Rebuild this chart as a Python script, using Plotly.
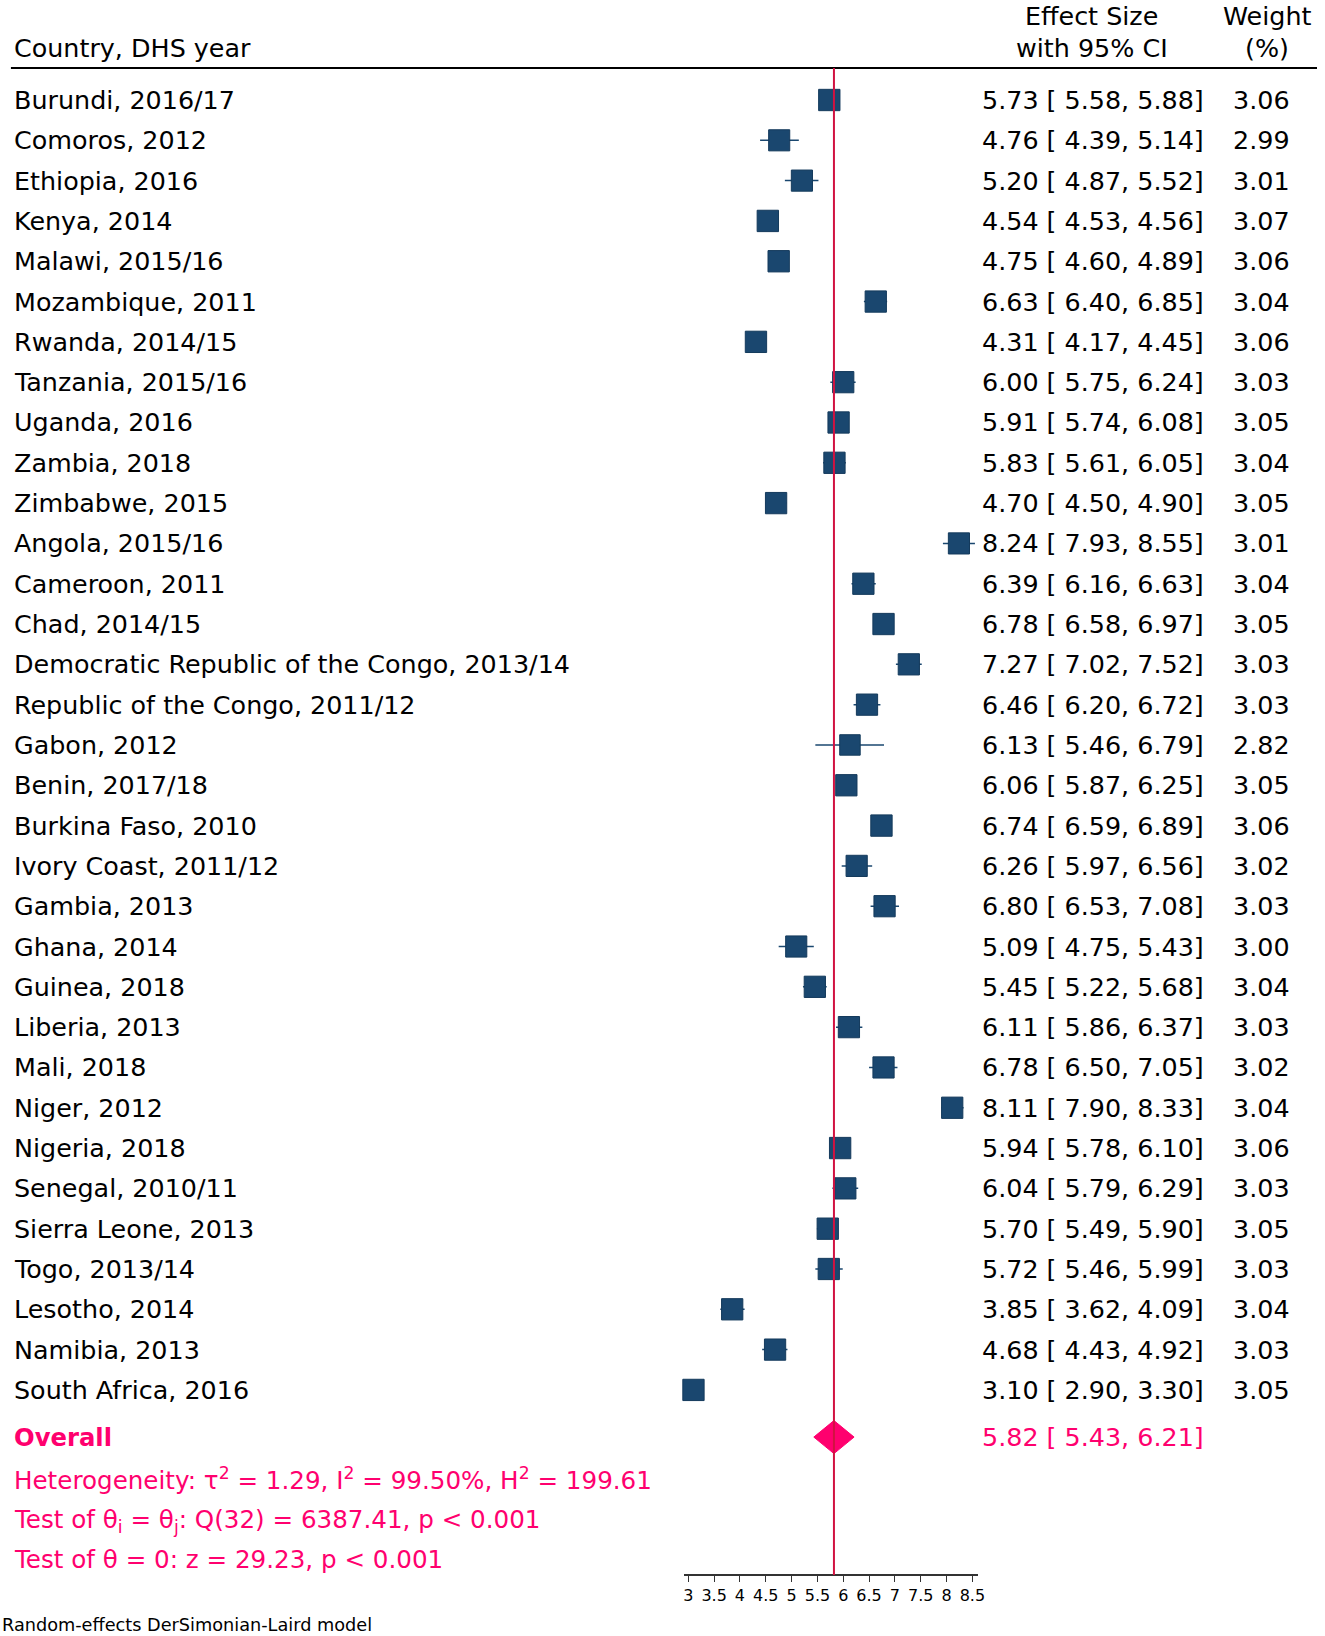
import plotly.graph_objects as go

# forest plot data
countries = [
    "Burundi, 2016/17", "Comoros, 2012", "Ethiopia, 2016", "Kenya, 2014",
    "Malawi, 2015/16", "Mozambique, 2011", "Rwanda, 2014/15", "Tanzania, 2015/16",
    "Uganda, 2016", "Zambia, 2018", "Zimbabwe, 2015", "Angola, 2015/16",
    "Cameroon, 2011", "Chad, 2014/15", "Democratic Republic of the Congo, 2013/14",
    "Republic of the Congo, 2011/12", "Gabon, 2012", "Benin, 2017/18",
    "Burkina Faso, 2010", "Ivory Coast, 2011/12", "Gambia, 2013", "Ghana, 2014",
    "Guinea, 2018", "Liberia, 2013", "Mali, 2018", "Niger, 2012", "Nigeria, 2018",
    "Senegal, 2010/11", "Sierra Leone, 2013", "Togo, 2013/14", "Lesotho, 2014",
    "Namibia, 2013", "South Africa, 2016",
]
es = [5.73, 4.76, 5.20, 4.54, 4.75, 6.63, 4.31, 6.00, 5.91, 5.83, 4.70, 8.24,
      6.39, 6.78, 7.27, 6.46, 6.13, 6.06, 6.74, 6.26, 6.80, 5.09, 5.45, 6.11,
      6.78, 8.11, 5.94, 6.04, 5.70, 5.72, 3.85, 4.68, 3.10]
lo = [5.58, 4.39, 4.87, 4.53, 4.60, 6.40, 4.17, 5.75, 5.74, 5.61, 4.50, 7.93,
      6.16, 6.58, 7.02, 6.20, 5.46, 5.87, 6.59, 5.97, 6.53, 4.75, 5.22, 5.86,
      6.50, 7.90, 5.78, 5.79, 5.49, 5.46, 3.62, 4.43, 2.90]
hi = [5.88, 5.14, 5.52, 4.56, 4.89, 6.85, 4.45, 6.24, 6.08, 6.05, 4.90, 8.55,
      6.63, 6.97, 7.52, 6.72, 6.79, 6.25, 6.89, 6.56, 7.08, 5.43, 5.68, 6.37,
      7.05, 8.33, 6.10, 6.29, 5.90, 5.99, 4.09, 4.92, 3.30]
weights = [3.06, 2.99, 3.01, 3.07, 3.06, 3.04, 3.06, 3.03, 3.05, 3.04, 3.05, 3.01,
           3.04, 3.05, 3.03, 3.03, 2.82, 3.05, 3.06, 3.02, 3.03, 3.00, 3.04, 3.03,
           3.02, 3.04, 3.06, 3.03, 3.05, 3.03, 3.04, 3.03, 3.05]

overall_es, overall_lo, overall_hi = 5.82, 5.43, 6.21
tick_vals = [3, 3.5, 4, 4.5, 5, 5.5, 6, 6.5, 7, 7.5, 8, 8.5]

W, H = 1325, 1636
NAVY = "#1A476F"
PINK = "#FF006E"
RED = "#D11241"
FONT = "DejaVu Sans"
FS = 25.4

ROW0, ROWH = 100, 40.31   # pixel y of first row, row spacing
rows = list(range(len(countries)))
r_overall = 33.17


def fx(px):  # pixel x -> paper x
    return px / W


def fy(px):  # pixel y -> paper y
    return 1 - px / H


def row_of(px):  # pixel y -> row coordinate
    return (px - ROW0) / ROWH


fig = go.Figure()

# confidence interval whiskers
ci_x, ci_y = [], []
for r, a, b in zip(rows, lo, hi):
    ci_x += [a, b, None]
    ci_y += [r, r, None]
fig.add_trace(go.Scatter(x=ci_x, y=ci_y, mode="lines",
                         line=dict(color=NAVY, width=1.5), hoverinfo="skip"))

# study boxes, size by weight
fig.add_trace(go.Scatter(
    x=es, y=rows, mode="markers",
    marker=dict(symbol="square", color=NAVY, opacity=1,
                size=[12.2 * w ** 0.5 for w in weights],
                line=dict(color="#143a5c", width=1)),
    cliponaxis=False, hoverinfo="skip"))

# overall diamond
dh = 0.41
fig.add_trace(go.Scatter(
    x=[overall_lo, overall_es, overall_hi, overall_es, overall_lo],
    y=[r_overall, r_overall - dh, r_overall, r_overall + dh, r_overall],
    mode="lines", fill="toself", fillcolor=PINK,
    line=dict(color=PINK, width=1), hoverinfo="skip"))

ann = []


def txt(text, x, y, xanchor="left", yref="paper", size=FS, color="black"):
    # small nudges for the annotation box padding
    shift = {"left": -3, "right": 9, "center": 5}[xanchor]
    ann.append(dict(text=text, x=fx(x + shift), y=y, xref="paper", yref=yref,
                    xanchor=xanchor, yanchor="middle", showarrow=False,
                    font=dict(family=FONT, size=size, color=color)))


# header
txt("Country, DHS year", 14, fy(48))
txt("Effect Size", 1093, fy(16), "center")
txt("with 95% CI", 1093, fy(48), "center")
txt("Weight", 1270, fy(16), "center")
txt("(%)", 1270, fy(48), "center")

for r, c, e, a, b, w in zip(rows, countries, es, lo, hi, weights):
    txt(c, 14, r, yref="y")
    txt(f"{e:.2f} [ {a:.2f}, {b:.2f}]", 1204, r, "right", yref="y")
    txt(f"{w:.2f}", 1291, r, "right", yref="y")

txt("<b>Overall</b>", 14, r_overall, yref="y", size=24.3, color=PINK)
txt(f"{overall_es:.2f} [ {overall_lo:.2f}, {overall_hi:.2f}]", 1204,
    r_overall, "right", yref="y", color=PINK)
txt("Heterogeneity: τ<sup>2</sup> = 1.29, I<sup>2</sup> = 99.50%, H<sup>2</sup> = 199.61",
    14, 34.2, yref="y", size=24.6, color=PINK)
txt("Test of θ<sub>i</sub> = θ<sub>j</sub>: Q(32) = 6387.41, p < 0.001",
    14, 35.25, yref="y", size=24.6, color=PINK)
txt("Test of θ = 0: z = 29.23, p < 0.001", 14, 36.2, yref="y",
    size=24.6, color=PINK)
txt("Random-effects DerSimonian-Laird model", 2, fy(1625), size=17.7)

shapes = [
    dict(type="line", xref="paper", yref="paper", x0=fx(10), x1=1,
         y0=fy(68), y1=fy(68), line=dict(color="black", width=2)),
    dict(type="line", xref="x", yref="y", x0=overall_es, x1=overall_es,
         y0=row_of(68), y1=row_of(1575), line=dict(color=RED, width=2)),
]

# axis geometry: 3 -> x 692 px, 52 px per unit
X3, PPU = 692, 52
x_lo, x_hi = 2.92, 8.6
d0 = fx(X3 + (x_lo - 3) * PPU)
d1 = fx(X3 + (x_hi - 3) * PPU)

fig.update_layout(
    width=W, height=H,
    margin=dict(l=0, r=0, t=0, b=0),
    paper_bgcolor="white", plot_bgcolor="white",
    showlegend=False,
    annotations=ann, shapes=shapes,
    xaxis=dict(domain=[d0, d1], range=[x_lo, x_hi], anchor="free",
               position=fy(1575), tickvals=tick_vals,
               ticktext=[f"{v:g}" for v in tick_vals],
               showline=True, linecolor="#333333", linewidth=1.5,
               ticks="outside", ticklen=6, tickcolor="#333333",
               showgrid=False, zeroline=False,
               tickfont=dict(family=FONT, size=16, color="black")),
    yaxis=dict(domain=[0, 1], range=[row_of(H), row_of(0)],
               visible=False, showgrid=False, zeroline=False),
)

# drop the default 8px page margin so the figure fills the window
fig.write_html("out.html", config={"displayModeBar": False},
               post_script="document.body.style.margin = '0px';")
